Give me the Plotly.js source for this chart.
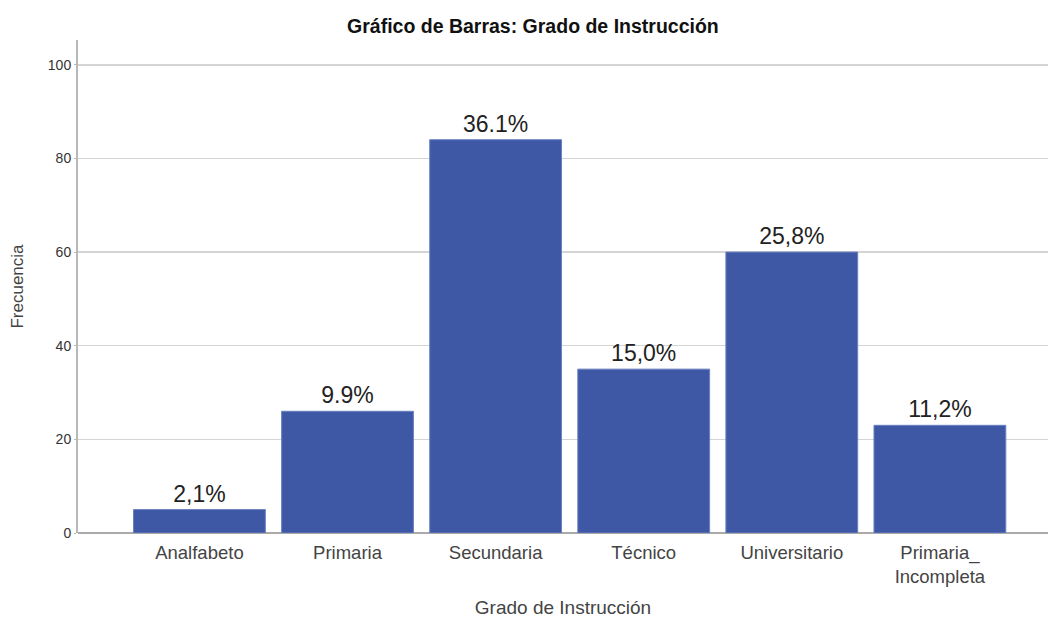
<!DOCTYPE html>
<html>
<head>
<meta charset="utf-8">
<script src="https://cdn.plot.ly/plotly-3.0.1.min.js"></script>
<style>html,body{margin:0;padding:0;background:#fff;}#chart{width:1049px;height:619px;}</style>
</head>
<body>
<div id="chart"></div>
<script>
const categories = ["Analfabeto", "Primaria", "Secundaria", "Técnico", "Universitario", "Primaria_<br>Incompleta"];
const frecuencia = [5, 26, 84, 35, 60, 23];
const porcentajes = ["2,1%", "9.9%", "36.1%", "15,0%", "25,8%", "11,2%"];
const yTicks = [0, 20, 40, 60, 80, 100];

const trace = {
  type: "bar",
  x: categories.map((c, i) => i),
  y: frecuencia,
  text: porcentajes,
  textposition: "outside",
  cliponaxis: false,
  textfont: {family: "Liberation Sans, Arial, sans-serif", size: 23, color: "#222"},
  marker: {color: "#3E58A6", line: {color: "#6a80c0", width: 1}},
  width: 0.89,
  hoverinfo: "x+y"
};

const layout = {
  width: 1049, height: 619,
  margin: {l: 78, r: 1, t: 40, b: 86},
  paper_bgcolor: "#fff", plot_bgcolor: "#fff",
  font: {family: "Liberation Sans, Arial, sans-serif", color: "#333"},
  title: {text: "<b>Gráfico de Barras: Grado de Instrucción</b>", x: 0.508, xanchor: "center", y: 0.957, yanchor: "middle",
          font: {size: 19.5, color: "#111"}},
  xaxis: {
    range: [-0.82, 5.73],
    tickmode: "array",
    tickvals: categories.map((c, i) => i),
    ticktext: categories,
    tickfont: {size: 18.5, color: "#444"},
    showgrid: false, zeroline: false,
    showline: false,
    ticks: "outside", ticklen: 3, tickcolor: "rgba(0,0,0,0)",
    title: {text: "Grado de Instrucción", font: {size: 19, color: "#444"}, standoff: 14}
  },
  yaxis: {
    range: [0, 105.3],
    tickmode: "array",
    tickvals: yTicks,
    tickfont: {size: 14, color: "#333"},
    showgrid: true, gridcolor: "#d4d4d4", gridwidth: 1.5,
    zeroline: true, zerolinecolor: "#aaaaaa", zerolinewidth: 2,
    showline: true, linecolor: "#b8b8b8", linewidth: 2,
    ticks: "outside", ticklen: 2, tickcolor: "#b8b8b8",
    title: {text: "Frecuencia", font: {size: 17, color: "#444"}, standoff: 20}
  },
  showlegend: false,
  bargap: 0.11
};

Plotly.newPlot("chart", [trace], layout, {displayModeBar: false, staticPlot: true});
</script>
</body>
</html>
